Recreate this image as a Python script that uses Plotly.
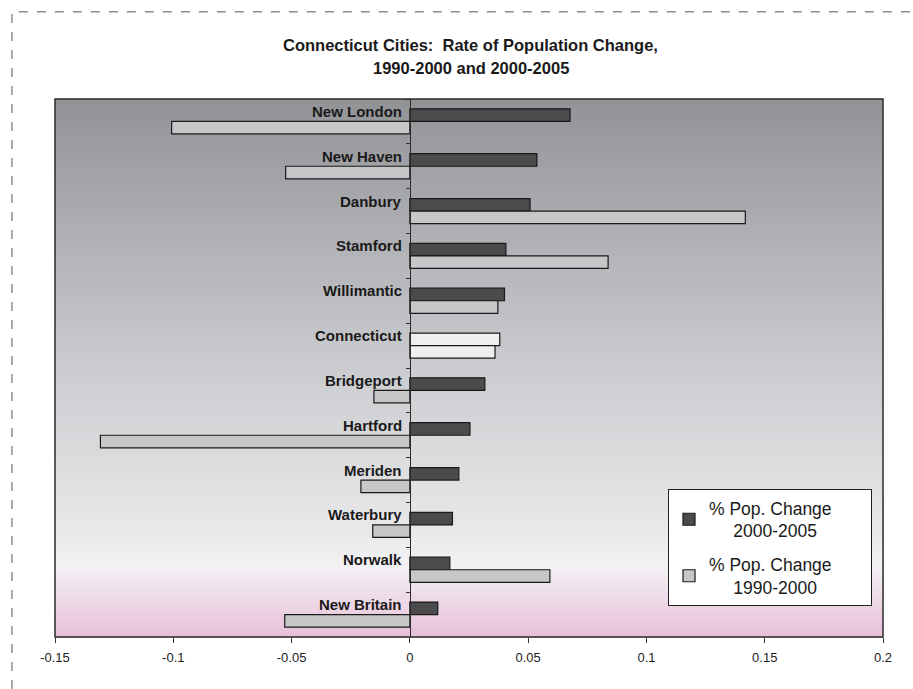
import plotly.graph_objects as go

cities = ["New London", "New Haven", "Danbury", "Stamford", "Willimantic", "Connecticut",
          "Bridgeport", "Hartford", "Meriden", "Waterbury", "Norwalk", "New Britain"]
change_2000_2005 = [0.0677, 0.0537, 0.0508, 0.0406, 0.0400, 0.0380,
                    0.0317, 0.0254, 0.0207, 0.0180, 0.0169, 0.0118]
change_1990_2000 = [-0.1007, -0.0525, 0.1418, 0.0838, 0.0372, 0.0360,
                    -0.0152, -0.1308, -0.0207, -0.0157, 0.0592, -0.0529]
x_ticks = [-0.15, -0.1, -0.05, 0, 0.05, 0.1, 0.15, 0.2]
x_ticklabels = ["-0.15", "-0.1", "-0.05", "0", "0.05", "0.1", "0.15", "0.2"]
title_lines = ["Connecticut Cities:\u00a0 Rate of Population Change,", "1990-2000 and 2000-2005"]

DARK = "#4b4b4d"
LIGHT = "#c6c7c9"
STATE = "#efeff0"

dark_colors = [STATE if c == "Connecticut" else DARK for c in cities]
light_colors = [STATE if c == "Connecticut" else LIGHT for c in cities]

pad = "\u00a0" * 7
fig = go.Figure()
fig.add_trace(go.Bar(
    y=cities, x=change_2000_2005, orientation="h", legendgroup="a",
    name="% Pop. Change" + pad + "<br>\u00a0\u00a0\u00a0\u00a0\u00a02000-2005",
    marker=dict(color=dark_colors, line=dict(color="#1a1a1a", width=1.2)),
))
fig.add_trace(go.Bar(
    y=cities, x=change_1990_2000, orientation="h", legendgroup="b",
    name="% Pop. Change" + pad + "<br>\u00a0\u00a0\u00a0\u00a0\u00a01990-2000",
    marker=dict(color=light_colors, line=dict(color="#1a1a1a", width=1.2)),
))

# gradient background via strips
stops = [(0.0, (0x92, 0x93, 0x97)), (0.5, (0xcb, 0xcc, 0xcf)), (0.8, (0xe8, 0xe8, 0xea)),
         (0.87, (0xf3, 0xf1, 0xf4)), (1.0, (0xe7, 0xbf, 0xd7))]

def col_at(t):
    for (t0, c0), (t1, c1) in zip(stops[:-1], stops[1:]):
        if t0 <= t <= t1:
            f = (t - t0) / (t1 - t0) if t1 > t0 else 0
            return "rgb(%d,%d,%d)" % tuple(round(a + (b - a) * f) for a, b in zip(c0, c1))
    return "rgb(231,191,215)"

shapes = []
N = 120
for i in range(N):
    t0 = i / N
    t1 = (i + 1) / N
    shapes.append(dict(type="rect", xref="x domain", yref="y domain",
                       x0=0, x1=1, y0=1 - t1 - 0.002, y1=1 - t0,
                       fillcolor=col_at((t0 + t1) / 2), line=dict(width=0), layer="below"))
# plot frame
shapes.append(dict(type="rect", xref="x domain", yref="y domain", x0=0, x1=1, y0=0, y1=1,
                   line=dict(color="#2b2b2b", width=1.5), layer="above"))
# dashed outer border
shapes.append(dict(type="rect", xref="paper", yref="paper", x0=-0.052, x1=1.2, y0=-0.3, y1=1.162,
                   line=dict(color="#555555", width=1, dash="dash"), layer="above"))

annotations = []
for c in cities:
    annotations.append(dict(x=0, y=c, xref="x", yref="y", text="<b>%s</b>" % c,
                            showarrow=False, xanchor="right", yanchor="middle",
                            xshift=-6, yshift=10,
                            font=dict(family="Liberation Sans, Arial", size=15, color="#1a1a1a")))
# title lines: centres at 45px and 68px from top; plot top at 99px, plot height 538px
for line, ypix in zip(title_lines, [45, 68]):
    annotations.append(dict(x=0.502, y=1 + (99 - ypix) / 538, xref="paper", yref="paper",
                            text="<b>%s</b>" % line,
                            showarrow=False, xanchor="center", yanchor="middle",
                            font=dict(family="Liberation Sans, Arial", size=16.5, color="#1a1a1a")))

fig.update_layout(
    width=913, height=689,
    margin=dict(l=55, r=30, t=99, b=52),
    paper_bgcolor="white", plot_bgcolor="white",
    barmode="group", bargap=0.44, bargroupgap=0,
    showlegend=True,
    legend=dict(x=(668 - 55) / 828, y=(637 - 489) / 538, xanchor="left", yanchor="top",
                bgcolor="white", bordercolor="#222222", borderwidth=1,
                font=dict(family="Liberation Sans, Arial", size=17.5, color="#1a1a1a"),
                tracegroupgap=8),
    shapes=shapes, annotations=annotations,
    xaxis=dict(range=[-0.15, 0.2], tickvals=x_ticks, ticktext=x_ticklabels,
               ticks="outside", ticklen=5, tickcolor="#333", showgrid=False, zeroline=False,
               showline=False, ticklabelstandoff=3,
               tickfont=dict(family="Liberation Sans, Arial", size=13, color="#222")),
    yaxis=dict(autorange="reversed", anchor="free", position=0.15 / 0.35,
               showticklabels=False, ticks="outside", ticklen=4, tickcolor="#333",
               tickson="boundaries", showline=True, linecolor="#2b2b2b", linewidth=1,
               showgrid=False, zeroline=False),
)

fig.write_html("out.html")
